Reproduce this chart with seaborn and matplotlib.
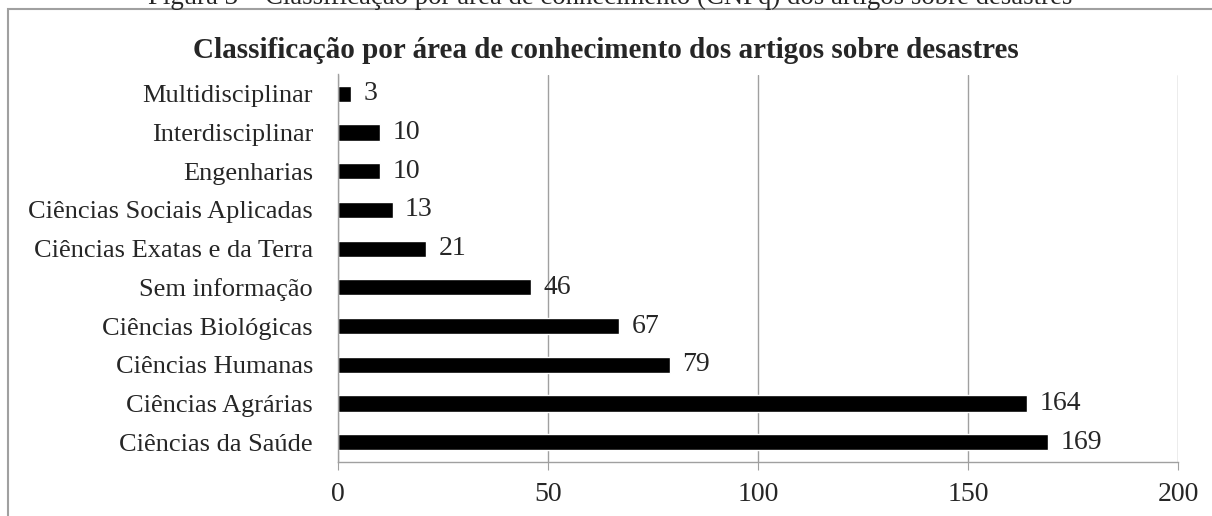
import matplotlib
matplotlib.use("Agg")
import matplotlib.pyplot as plt
import matplotlib.patches as mpatches
import seaborn as sns
import pandas as pd

# data
areas = [
    "Multidisciplinar",
    "Interdisciplinar",
    "Engenharias",
    "Ciências Sociais Aplicadas",
    "Ciências Exatas e da Terra",
    "Sem informação",
    "Ciências Biológicas",
    "Ciências Humanas",
    "Ciências Agrárias",
    "Ciências da Saúde",
]
counts = [3, 10, 10, 13, 21, 46, 67, 79, 164, 169]
x_ticks = [0, 50, 100, 150, 200]

df = pd.DataFrame({"area": areas, "n": counts})

sns.set_style("white")
plt.rcParams["font.family"] = ["Liberation Serif", "DejaVu Serif"]

fig = plt.figure(figsize=(12.12, 5.16), dpi=100)
ax = fig.add_axes([338 / 1212, 1 - 461.5 / 516, 840 / 1212, 387 / 516])

sns.barplot(data=df, x="n", y="area", orient="h", color="black",
            width=0.42, saturation=1, ax=ax)

for p, v in zip(ax.patches, counts):
    ax.annotate(str(v), (p.get_width(), p.get_y() + p.get_height() / 2),
                xytext=(9, 0), textcoords="offset points",
                va="center", ha="left", fontsize=20)

ax.set_xlim(0, 200)
ax.set_xticks(x_ticks)
ax.set_xlabel("")
ax.set_ylabel("")
ax.tick_params(axis="x", labelsize=20, length=6, color="#a0a0a0",
               direction="out", bottom=True, pad=9)
ax.tick_params(axis="y", labelsize=19, length=0, pad=18)
ax.grid(axis="x", color="#a0a0a0", linewidth=1)
ax.set_axisbelow(True)
for side in ["top", "right"]:
    ax.spines[side].set_visible(False)
for side in ["left", "bottom"]:
    ax.spines[side].set_color("#a0a0a0")
    ax.spines[side].set_linewidth(1)

fig.suptitle("Classificação por área de conhecimento dos artigos sobre desastres",
             x=0.5, y=1 - 50 / 516, va="center", fontsize=21, fontweight="bold")

# chart frame, runs past the right and bottom edges like the cropped source
frame = mpatches.Rectangle((8 / 1212, -0.2), 1.1, 1.2 - 9 / 516,
                           transform=fig.transFigure, fill=False,
                           edgecolor="#a0a0a0", linewidth=1.5, clip_on=False)
fig.patches.append(frame)

# caption line cut off at the top edge of the image
fig.text(610 / 1212, 1 - 4 / 516, "Figura 3 – Classificação por área de conhecimento (CNPq) dos artigos sobre desastres",
         ha="center", va="baseline", fontsize=19.3)

fig.savefig("out.png", dpi=100)
